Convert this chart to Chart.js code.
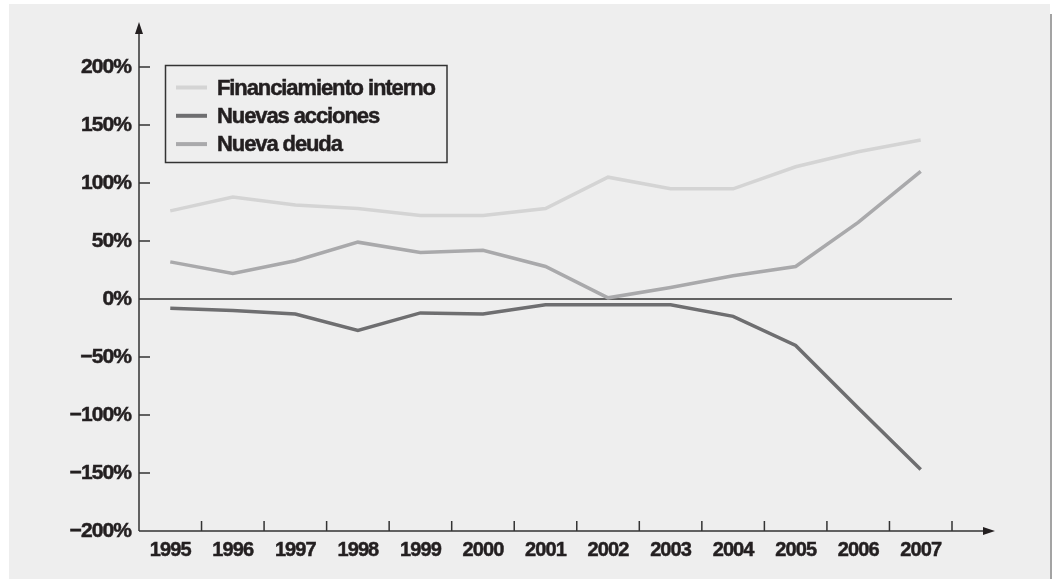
<!DOCTYPE html>
<html>
<head>
<meta charset="utf-8">
<script src="https://cdn.jsdelivr.net/npm/chart.js@4.4.1/dist/chart.umd.min.js"></script>
<style>
  html,body{margin:0;padding:0;background:#fff;}
  #wrap{width:1052px;height:579px;}
</style>
</head>
<body>
<div id="wrap"><canvas id="c" width="1052" height="579"></canvas></div>
<script>
// datos (% sobre el total)
const years = ['1995','1996','1997','1998','1999','2000','2001','2002','2003','2004','2005','2006','2007'];
const financiamientoInterno = [76, 88, 81, 78, 72, 72, 78, 105, 95, 95, 114, 127, 137];
const nuevasAcciones = [-8, -10, -13, -27, -12, -13, -5, -5, -5, -15, -40, -94, -147];
const nuevaDeuda = [32, 22, 33, 49, 40, 42, 28, 1, 10, 20, 28, 66, 110];
const yTicks = [-200, -150, -100, -50, 0, 50, 100, 150, 200];

const FONT = '"Liberation Sans",Arial,sans-serif';
const INK = '#231f20';
const AXIS = '#333';

// fondo gris del panel (y texto mas apretado, tipo condensada)
const panel = {
  id:'panel',
  beforeDraw(chart){
    const c = chart.ctx;
    c.save();
    c.fillStyle = '#eeeeee';
    c.fillRect(9, 4, 1041, 575);
    c.fillStyle = '#a3a3a3';
    c.fillRect(1050, 14, 2, 565);
    c.restore();
    c.letterSpacing = '-0.9px';
  }
};

// ejes con flechas, marcas hacia adentro y linea del cero
const axes = {
  id:'axes',
  beforeDatasetsDraw(chart){
    const c = chart.ctx, x = chart.scales.x, y = chart.scales.y;
    const left = chart.chartArea.left, bottom = chart.chartArea.bottom;
    const half = (x.getPixelForValue(1) - x.getPixelForValue(0)) / 2;
    const lastEdge = x.getPixelForValue(years.length - 1) + half;
    c.save();
    c.strokeStyle = AXIS; c.fillStyle = INK; c.lineWidth = 1.5;
    c.beginPath();
    c.moveTo(left, bottom); c.lineTo(left, 30);
    c.moveTo(left, bottom); c.lineTo(988, bottom);
    const y0 = y.getPixelForValue(0);
    c.moveTo(left, y0); c.lineTo(lastEdge, y0);
    yTicks.forEach(v => { const p = y.getPixelForValue(v); c.moveTo(left, p); c.lineTo(left + 11, p); });
    years.forEach((_, i) => { const p = x.getPixelForValue(i) + half; c.moveTo(p, bottom); c.lineTo(p, bottom - 10); });
    c.stroke();
    c.beginPath();
    c.moveTo(left, 22); c.lineTo(left - 4, 34); c.lineTo(left + 4, 34); c.closePath();
    c.moveTo(995, bottom); c.lineTo(983, bottom - 4); c.lineTo(983, bottom + 4); c.closePath();
    c.fill();
    c.restore();
  }
};

// leyenda dentro del area, con recuadro
const boxLegend = {
  id:'boxLegend',
  afterDraw(chart){
    const c = chart.ctx;
    c.save();
    c.strokeStyle = AXIS; c.lineWidth = 1.5;
    c.strokeRect(165.5, 65.5, 281.5, 97);
    c.font = 'bold 22px ' + FONT;
    c.letterSpacing = '-1.1px';
    c.textBaseline = 'middle';
    chart.data.datasets.forEach((ds, i) => {
      const ty = 87.5 + i * 28.3;
      c.strokeStyle = ds.borderColor; c.lineWidth = 4;
      c.beginPath(); c.moveTo(176, ty); c.lineTo(207, ty); c.stroke();
      c.fillStyle = INK; c.strokeStyle = INK; c.lineWidth = 0.5;
      c.fillText(ds.label, 217, ty + 1);
      c.strokeText(ds.label, 217, ty + 1);
    });
    c.restore();
  }
};

new Chart(document.getElementById('c'), {
  type:'line',
  data:{
    labels: years,
    datasets:[
      { label:'Financiamiento interno', data: financiamientoInterno, borderColor:'#d4d4d4' },
      { label:'Nuevas acciones', data: nuevasAcciones, borderColor:'#6e6e70' },
      { label:'Nueva deuda', data: nuevaDeuda, borderColor:'#a9a9ab' }
    ]
  },
  options:{
    responsive:false,
    devicePixelRatio:1,
    animation:false,
    layout:{ padding:{ top:67, right:100, bottom:0, left:0 } },
    elements:{ line:{ borderWidth:3.5, tension:0, borderCapStyle:'butt', borderJoinStyle:'miter' }, point:{ radius:0 } },
    plugins:{ legend:{ display:false }, tooltip:{ enabled:false } },
    scales:{
      x:{
        offset:true,
        grid:{ display:false, drawTicks:false },
        border:{ display:false },
        ticks:{ color:INK, font:{ family:FONT, size:20, weight:'bold' }, padding:7, maxRotation:0, autoSkip:false,
          textStrokeColor:INK, textStrokeWidth:0.5 },
        afterFit(s){ s.height = 48; }
      },
      y:{
        min:-200, max:200,
        afterBuildTicks(s){ s.ticks = yTicks.map(v => ({ value:v })); },
        grid:{ display:false, drawTicks:false },
        border:{ display:false },
        ticks:{ color:INK, font:{ family:FONT, size:21, weight:'bold' }, padding:8,
          textStrokeColor:INK, textStrokeWidth:0.5,
          callback:v => (v < 0 ? '\u2212' : '') + Math.abs(v) + '%' },
        afterFit(s){ s.width = 139; }
      }
    }
  },
  plugins:[panel, axes, boxLegend]
});
</script>
</body>
</html>
